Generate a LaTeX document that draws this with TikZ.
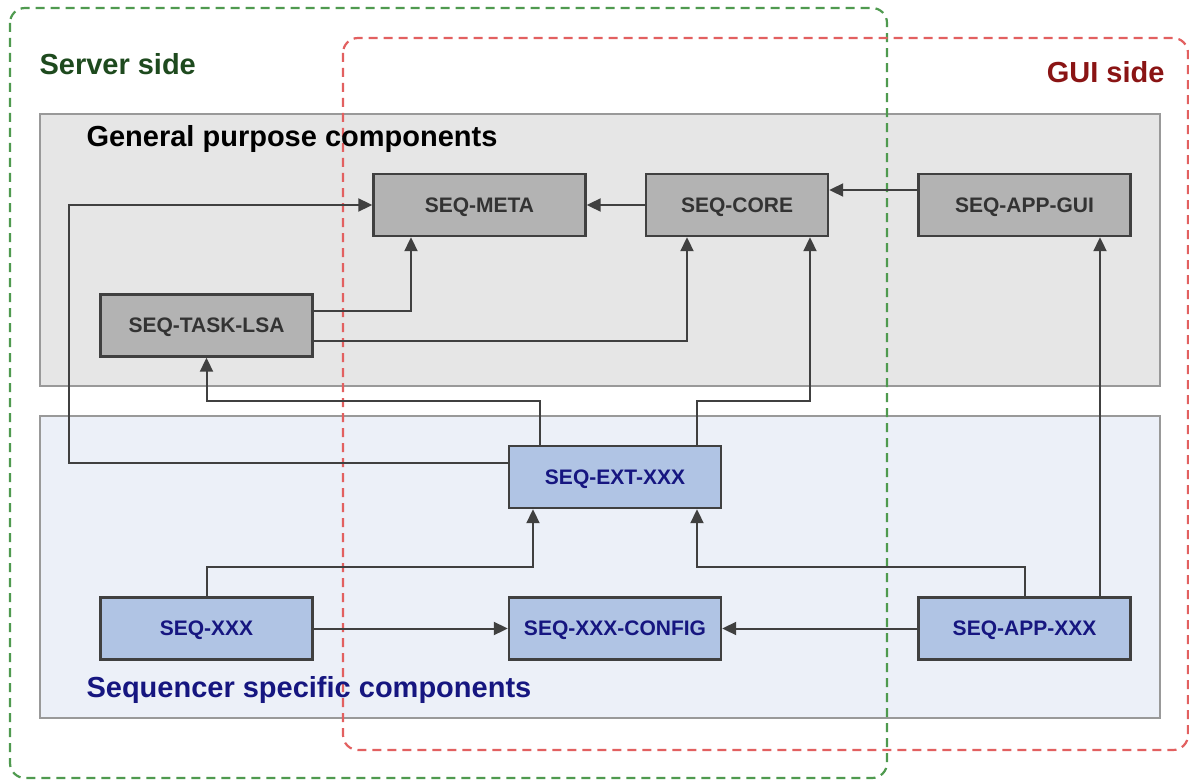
\documentclass[tikz,border=0pt]{standalone}
\usepackage{fontspec}
\setmainfont{Liberation Sans}
\usetikzlibrary{calc,arrows.meta}

\definecolor{srvgreen}{HTML}{4F9A4F}
\definecolor{srvtext}{HTML}{1E4A1E}
\definecolor{guired}{HTML}{E26060}
\definecolor{guitext}{HTML}{8A1414}
\definecolor{genfill}{HTML}{E6E6E6}
\definecolor{seqfill}{HTML}{ECF0F8}
\definecolor{greybox}{HTML}{B3B3B3}
\definecolor{bluebox}{HTML}{B0C4E4}
\definecolor{navy}{HTML}{161680}

\tikzset{
  panel/.style={draw=gray!80, line width=1.5pt},
  side/.style={dashed, dash pattern=on 9pt off 6pt, line width=2.2pt, rounded corners=15pt},
  genbox/.style={draw=black!75, line width=2.4pt, fill=greybox, minimum width=212pt, minimum height=62pt,
    font=\fontsize{21}{24}\selectfont\bfseries, text=black!80, text depth=0pt},
  seqbox/.style={genbox, fill=bluebox, text=navy},
  conn/.style={draw=black!75, line width=2pt, -{Triangle[length=14pt,width=13pt]}},
  title/.style={font=\fontsize{29}{34}\selectfont\bfseries}
}

\begin{document}
\begin{tikzpicture}[x=1pt, y=-1pt]
    \useasboundingbox (0,0) rectangle (1189,781);

    % the two layers
    \draw[panel, fill=genfill] (40,114) rectangle (1160,386);
    \draw[panel, fill=seqfill] (40,416) rectangle (1160,718);

    % server / gui areas
    \draw[side, draw=srvgreen] (10,8) rectangle (887,778);
    \draw[side, draw=guired] (343,38) rectangle (1188,750);

    \node[title, text=srvtext, anchor=west] (srv) at (36,64) {Server side};
    \node[title, text=guitext, anchor=east] (gui) at (1168,72) {GUI side};
    \node[title, anchor=west] (gen) at (83,139) {General purpose components};
    \node[title, text=navy, anchor=west] (spec) at (83,690) {Sequencer specific components};

    % components
    \node[genbox] (meta) at (479.5,205) {SEQ-META};
    \node[genbox, minimum width=182pt] (core) at (737,205) {SEQ-CORE};
    \node[genbox] (appgui) at (1024.5,205) {SEQ-APP-GUI};
    \node[genbox] (tasklsa) at (206.5,325.5) {SEQ-TASK-LSA};
    \node[seqbox] (ext) at (615,477) {SEQ-EXT-XXX};
    \node[seqbox] (seqxxx) at (206.5,628.5) {SEQ-XXX};
    \node[seqbox] (config) at (615,628.5) {SEQ-XXX-CONFIG};
    \node[seqbox] (appxxx) at (1024.5,628.5) {SEQ-APP-XXX};

    % dependencies
    \draw[conn] (core.west) -- (meta.east);
    \draw[conn] ([yshift=15pt]appgui.west) -- ([yshift=15pt]core.east);
    \draw[conn] ([yshift=14.5pt]tasklsa.east) -| ([xshift=-68.5pt]meta.south);
    \draw[conn] ([yshift=-15.5pt]tasklsa.east) -| ([xshift=-50pt]core.south);
    \draw[conn] ([yshift=14pt]ext.west) -- ++(-439,0) |- (meta.west);
    \draw[conn] ([xshift=-75pt]ext.north) -- ++(0,-44) -| (tasklsa.south);
    \draw[conn] ([xshift=82pt]ext.north) -- ++(0,-44) -| ([xshift=73pt]core.south);
    \draw[conn] (seqxxx.north) -- ++(0,-29) -| ([xshift=-82pt]ext.south);
    \draw[conn] (appxxx.north) -- ++(0,-29) -| ([xshift=82pt]ext.south);
    \draw[conn] ([xshift=75.5pt]appxxx.north) -- ([xshift=75.5pt]appgui.south);
    \draw[conn] (seqxxx.east) -- (config.west);
    \draw[conn] (appxxx.west) -- (config.east);
\end{tikzpicture}
\end{document}
